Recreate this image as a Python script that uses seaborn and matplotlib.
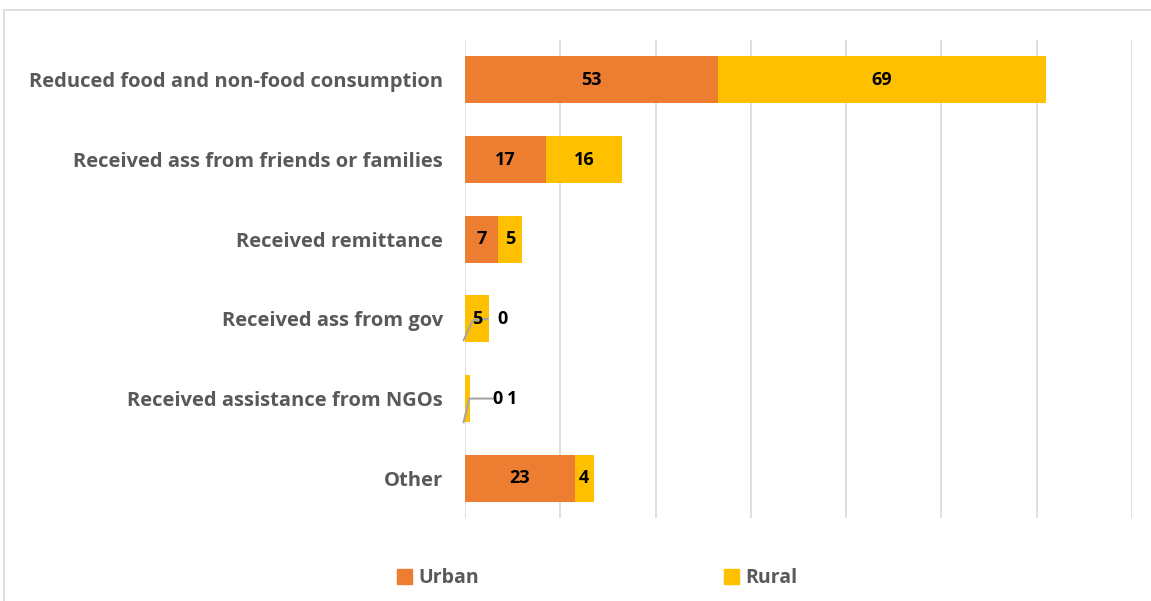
import matplotlib
matplotlib.use('Agg')
import matplotlib.pyplot as plt
import seaborn as sns
import pandas as pd
from matplotlib.patches import Rectangle, Patch

categories = ['Reduced food and non-food consumption',
              'Received ass from friends or families',
              'Received remittance',
              'Received ass from gov',
              'Received assistance from NGOs',
              'Other']
urban = [53, 17, 7, 0, 0, 23]
rural = [69, 16, 5, 5, 1, 4]

df = pd.DataFrame({'Category': categories, 'Urban': urban, 'Rural': rural})
df['Total'] = df['Urban'] + df['Rural']

ORANGE = '#ED7D31'
YELLOW = '#FFC000'
GRAY = '#595959'

sns.set_theme(style='white')
plt.rcParams['font.family'] = ['Open Sans', 'DejaVu Sans']

fig = plt.figure(figsize=(11.51, 6.01), dpi=100)
ax = fig.add_axes([0.404, 0.138, 0.5795, 0.7954])

# stacked: total in yellow underneath, urban on top
sns.barplot(data=df, y='Category', x='Total', color=YELLOW, width=0.59,
            saturation=1, linewidth=0, ax=ax, orient='h')
sns.barplot(data=df, y='Category', x='Urban', color=ORANGE, width=0.59,
            saturation=1, linewidth=0, ax=ax, orient='h')

ax.set_xlim(0, 140)
ax.set_ylim(5.5, -0.5)
ax.set_xticks(range(0, 141, 20))
ax.set_xticklabels([])
ax.tick_params(axis='both', length=0)
ax.xaxis.grid(True, color='#D9D9D9', linewidth=1.2)
ax.set_axisbelow(True)
ax.set_xlabel('')
ax.set_ylabel('')
for s in ax.spines.values():
    s.set_visible(False)
ax.set_yticks(range(len(categories)))
ax.set_yticklabels(categories, fontsize=14.5, fontweight='bold', color=GRAY)
ax.tick_params(axis='y', pad=16)

# data labels
lab = dict(fontsize=13, fontweight='bold', color='black', va='center')
for i, (u, r) in enumerate(zip(urban, rural)):
    if u > 0:
        ax.text(u / 2, i, str(u), ha='center', **lab)
    if r > 1:
        ax.text(u + r / 2, i, str(r), ha='center', **lab)

# moved labels with leader lines (gov and NGOs)
ax.text(7.8, 3, '0', ha='center', **lab)
ax.plot([-0.3, 1.6, 4.8], [3.27, 3.02, 3.0], color='#A6A6A6', lw=1.5, clip_on=False)
ax.text(6.8, 4, '0', ha='center', **lab)
ax.text(9.8, 4, '1', ha='center', **lab)
ax.plot([-0.3, 0.9, 6.4], [4.3, 4.0, 4.0], color='#A6A6A6', lw=1.5, clip_on=False)

# legend
handles = [Patch(color=ORANGE, label='Urban'), Patch(color=YELLOW, label='Rural')]
leg = fig.legend(handles=handles, loc='center left', bbox_to_anchor=(0.3296, 0.038),
                 ncol=2, frameon=False, handlelength=0.8, handleheight=0.8,
                 handletextpad=0.3, columnspacing=12.6,
                 prop={'size': 14, 'weight': 'bold'})
for t in leg.get_texts():
    t.set_color(GRAY)

# chart frame
fig.patches.append(Rectangle((4 / 1151, -0.1), 1.2, 1 - 10 / 601 + 0.1,
                             transform=fig.transFigure, fill=False,
                             edgecolor='#D9D9D9', lw=1.2))

fig.savefig('out.png', dpi=100)
